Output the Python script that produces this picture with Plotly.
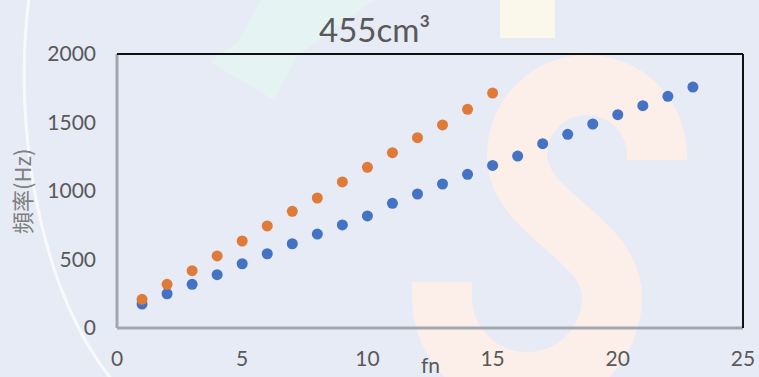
import plotly.graph_objects as go

# ---- data ----
fn_blue = list(range(1, 24))
freq_blue = [175, 250, 319, 389, 469, 542, 615, 686, 752, 818, 910, 978,
             1051, 1122, 1187, 1255, 1345, 1414, 1489, 1557, 1623, 1691, 1759]
fn_orange = list(range(1, 16))
freq_orange = [209, 319, 418, 526, 635, 745, 852, 949, 1066, 1173, 1280, 1389,
               1482, 1596, 1715]
x_ticks = [0, 5, 10, 15, 20, 25]
y_ticks = [0, 500, 1000, 1500, 2000]
title_text = "455cm³"
y_title = "頻率(Hz)"
x_title = "fn"

W, H = 759, 377
L, R, T, B = 117, 16, 54, 49
pw, ph = W - L - R, H - T - B

def px(x):
    return (x - L) / pw

def py(y):
    return (H - B - y) / ph

def pth(cmds):
    out = []
    for c in cmds:
        if isinstance(c, str):
            out.append(c)
        else:
            out.append("{:.4f},{:.4f}".format(px(c[0]), py(c[1])))
    return " ".join(out)

BG = "#E7EBF5"
TXT = "#595959"
FONT = "Lato"

fig = go.Figure()
fig.add_trace(go.Scatter(x=fn_blue, y=freq_blue, mode="markers",
                         marker=dict(color="#4472C4", size=11), showlegend=False))
fig.add_trace(go.Scatter(x=fn_orange, y=freq_orange, mode="markers",
                         marker=dict(color="#E07A38", size=11), showlegend=False))

shapes = []
# faint watermark: big "S"
s_path = pth(["M", (657, 160), "L", (657, 155),
              "C", (657, 116.3), (625.7, 85), (587, 85),
              "C", (548.3, 85), (517, 116.3), (517, 155),
              "C", (517, 215), (612, 237), (612, 297),
              "C", (612, 344), (574, 382), (527, 382),
              "C", (480, 382), (442, 344), (442, 297),
              "L", (442, 282)])
shapes.append(dict(type="path", xref="paper", yref="paper", path=s_path, layer="below",
                   line=dict(color="#FCEEE8", width=60), fillcolor="rgba(0,0,0,0)"))
# faint yellow rectangle
shapes.append(dict(type="rect", xref="paper", yref="paper", layer="below",
                   x0=px(500), x1=px(555), y0=py(38), y1=py(-5),
                   fillcolor="#FAF8EA", line=dict(width=0)))
# faint mint shape
shapes.append(dict(type="path", xref="paper", yref="paper", layer="below",
                   path=pth(["M", (262, -2), "L", (377, -2), "L", (298, 55), "L", (274, 100),
                             "L", (210, 62), "L", (238, 42), "Z"]),
                   fillcolor="#E5F3F3", line=dict(width=0)))
# faint white arc at left
shapes.append(dict(type="path", xref="paper", yref="paper", layer="below",
                   path=pth(["M", (29, -2), "C", (12, 130), (40, 290), (112, 380)]),
                   fillcolor="rgba(0,0,0,0)", line=dict(color="rgba(255,255,255,0.7)", width=3)))

# plot frame
shapes.append(dict(type="line", xref="paper", yref="paper", x0=0, x1=0, y0=0, y1=1,
                   line=dict(color="#A2A6AE", width=3)))
shapes.append(dict(type="line", xref="paper", yref="paper", x0=0, x1=1, y0=0, y1=0,
                   line=dict(color="#A2A6AE", width=3)))
shapes.append(dict(type="line", xref="paper", yref="paper", x0=0, x1=1, y0=1, y1=1,
                   line=dict(color="#111111", width=2)))
shapes.append(dict(type="line", xref="paper", yref="paper", x0=1, x1=1, y0=0, y1=1,
                   line=dict(color="#111111", width=2)))

fig.update_layout(
    width=W, height=H,
    margin=dict(l=L, r=R, t=T, b=B, autoexpand=False),
    paper_bgcolor=BG, plot_bgcolor="rgba(0,0,0,0)",
    xaxis=dict(range=[0, 25], tickvals=x_ticks, showgrid=False, zeroline=False,
               showline=False, ticks="", ticklabelstandoff=16, automargin=False,
               tickfont=dict(family=FONT, size=21, color=TXT)),
    yaxis=dict(range=[0, 2000], tickvals=y_ticks, showgrid=False, zeroline=False,
               showline=False, ticks="", ticklabelstandoff=20, automargin=False,
               tickfont=dict(family=FONT, size=21, color=TXT)),
    shapes=shapes,
    annotations=[
        dict(text=title_text, xref="paper", yref="paper", x=px(374), y=py(29),
             showarrow=False, xanchor="center", yanchor="middle",
             font=dict(family=FONT, size=33, color=TXT)),
        dict(text=y_title, xref="paper", yref="paper", x=px(21), y=py(192),
             textangle=-90, showarrow=False, xanchor="center", yanchor="middle",
             font=dict(family="Noto Sans CJK SC", size=22, color="#7F7F7F")),
        dict(text=x_title, xref="paper", yref="paper", x=px(430), y=py(364),
             showarrow=False, xanchor="center", yanchor="middle",
             font=dict(family=FONT, size=21, color=TXT)),
    ],
)

fig.write_html("out.html",
               config={"displayModeBar": False},
               post_script="document.body.style.margin='0';"
                           "document.body.style.background='" + BG + "';")
